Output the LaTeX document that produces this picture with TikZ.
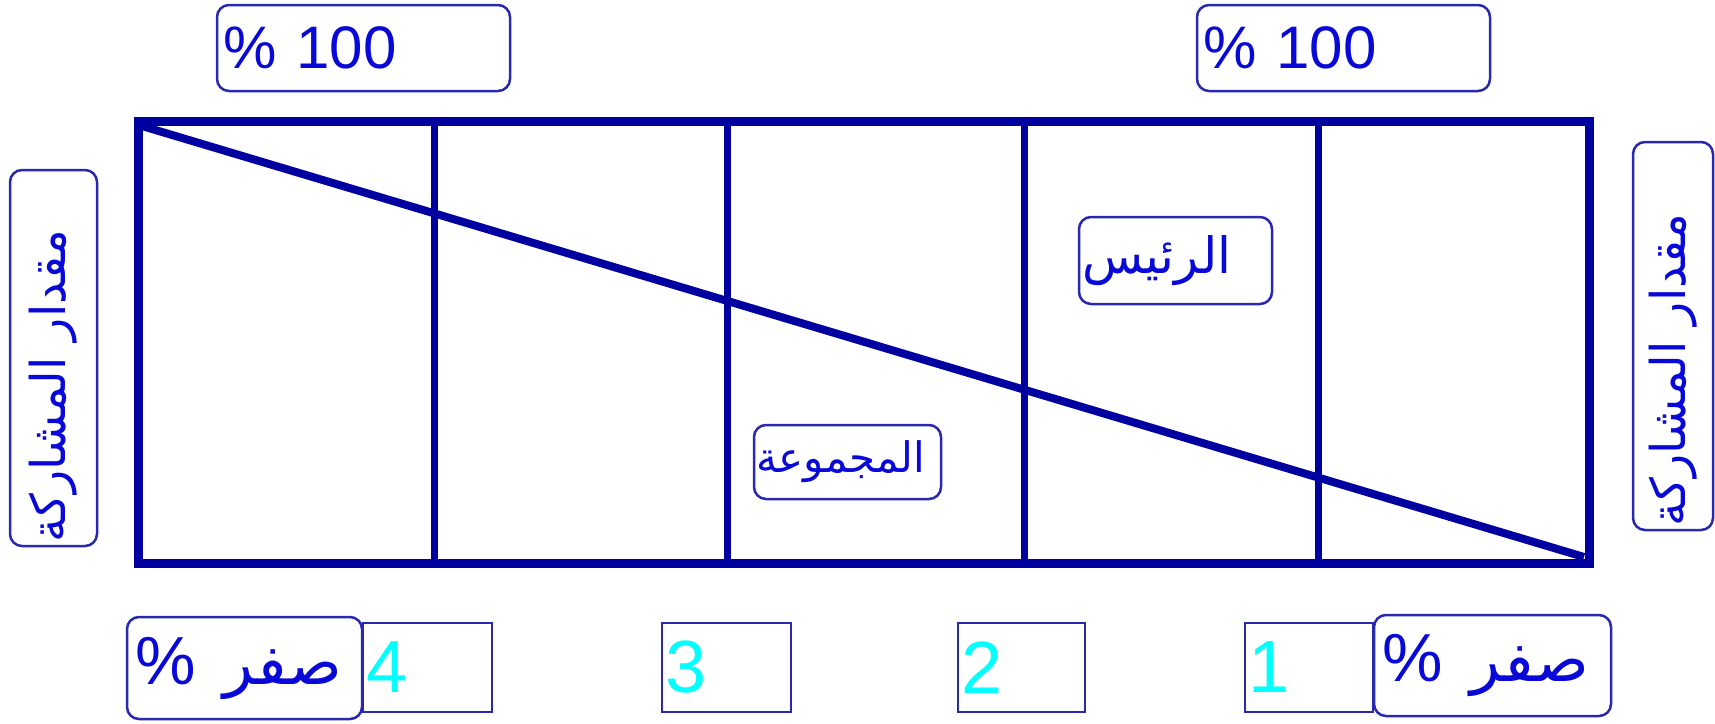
\documentclass[tikz,border=0pt]{standalone}
\usepackage{fontspec}
\setmainfont{Liberation Sans}
\newfontfamily\arabicfont[Script=Arabic]{DejaVu Sans}
\TeXXeTstate=1
\definecolor{gridblue}{HTML}{0000A0}
\definecolor{boxblue}{HTML}{2828B0}
\definecolor{textblue}{HTML}{0808D8}
\definecolor{digitcyan}{HTML}{00FFFF}
\newcommand{\zerolabel}{\hbox{\beginR{\arabicfont\fontsize{62}{62}\selectfont صفر}\hspace{28pt}\%\endR}}
\tikzset{
  tagbox/.style={draw=boxblue, line width=2.5pt, rounded corners=12pt,
    inner ysep=0pt, text=textblue, align=left},
  numbox/.style={draw=boxblue, line width=2.5pt, inner ysep=0pt,
    text=digitcyan, align=left, font=\fontsize{74}{74}\selectfont},
  topfont/.style={font=\fontsize{60}{60}\selectfont},
  zerofont/.style={font=\fontsize{68}{68}\selectfont},
  gridline/.style={draw=gridblue, line width=7pt},
}
\begin{document}
\begin{tikzpicture}[x=1pt, y=-1pt]
\useasboundingbox (0,0) rectangle (1715,723);

% chart frame and column dividers
\draw[gridblue, line width=9pt] (138,121) rectangle (1589,563);
\foreach \xc in {434,727,1024,1318}
  \draw[gridline] (\xc,121) -- (\xc,563);
% diagonal from top-left to bottom-right
\coordinate (diagA) at (142,126);
\coordinate (diagB) at (1584,557);
\draw[gridblue, line width=8pt] (diagA) -- (diagB);

% top percentage labels
\node[tagbox, topfont, text width=281pt, inner xsep=6pt, minimum height=86pt]
  (topL) at (363.5,48) {\% 100};
\node[tagbox, topfont, text width=281pt, inner xsep=6pt, minimum height=86pt]
  (topR) at (1343.5,48) {\% 100};

% vertical side labels
\node[tagbox, rotate=90, text width=368pt, inner xsep=4pt, minimum height=87pt,
  font=\fontsize{48}{48}\selectfont]
  (sideL) at (53.5,358) {\arabicfont\beginR مقدار المشاركة\endR};
\node[tagbox, rotate=90, text width=380pt, inner xsep=4pt, minimum height=80pt,
  font=\fontsize{48}{48}\selectfont]
  (sideR) at (1673,336) {\arabicfont\beginR مقدار المشاركة\endR};

% labels inside the chart
\node[tagbox, text width=187pt, inner xsep=3pt, minimum height=87pt,
  font=\fontsize{50}{50}\selectfont]
  (rais) at (1175.5,260.5) {\arabicfont\beginR الرئيس\endR};
\node[tagbox, text width=183pt, inner xsep=2pt, minimum height=74pt,
  font=\fontsize{42}{42}\selectfont]
  (group) at (847.5,462) {\arabicfont\beginR المجموعة\endR};

% bottom zero labels
\node[tagbox, zerofont, text width=219pt, inner xsep=8pt, minimum height=102pt]
  (zeroL) at (244.5,668) {\zerolabel};
\node[tagbox, zerofont, text width=221pt, inner xsep=8pt, minimum height=101pt]
  (zeroR) at (1492.5,665.5) {\zerolabel};

% numbered column boxes
\node[numbox, text width=123pt, inner xsep=3pt, minimum height=89pt] (n4) at (427.5,667.5) {4};
\node[numbox, text width=123pt, inner xsep=3pt, minimum height=89pt] (n3) at (726.5,667.5) {3};
\node[numbox, text width=121pt, inner xsep=3pt, minimum height=89pt] (n2) at (1021.5,667.5) {2};
\node[numbox, text width=122pt, inner xsep=3pt, minimum height=89pt] (n1) at (1309,667.5) {1};
\end{tikzpicture}
\end{document}
